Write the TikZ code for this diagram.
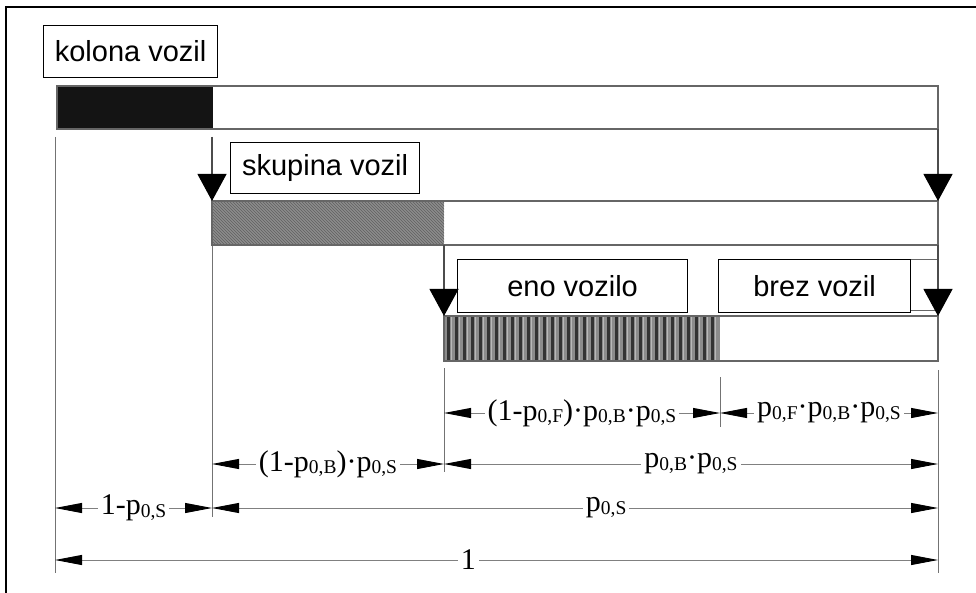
\documentclass[tikz,border=0pt]{standalone}
\usepackage{fontspec}
\setmainfont{Liberation Serif}
\newfontfamily\boxfont{Liberation Sans}
\usetikzlibrary{arrows.meta,patterns}

% subscripts of the probabilities, set small and slightly lowered
\newcommand{\sbs}[1]{\raisebox{-2.5pt}{\fontsize{19.5}{19.5}\selectfont #1}}
\newcommand{\pr}[1]{p\sbs{0,#1}}
\newcommand{\dt}{\textperiodcentered}

\begin{document}
\begin{tikzpicture}[x=1pt,y=-1pt,
  caption/.style={draw=black, line width=1.2pt, fill=white, anchor=north west,
    inner sep=0pt, font=\boxfont\fontsize{29}{29}\selectfont},
  barline/.style={draw=black!60, line width=1.1pt},
  extline/.style={draw=black!55, line width=0.9pt},
  drop/.style={draw=black!70, line width=1.1pt,
    -{Triangle[length=27pt,width=29pt,color=black,fill=black]}},
  dimline/.style={draw=black!50, line width=0.9pt,
    {Triangle[length=27pt,width=10pt,color=black,fill=black]}-{Triangle[length=27pt,width=10pt,color=black,fill=black]}},
  dimtext/.style={fill=white, inner sep=3pt, font=\fontsize{30}{30}\selectfont}
]
\useasboundingbox (0,0) rectangle (976,593);

% outer frame
\draw[line width=2pt] (6,620) -- (6,7) -- (1000,7);

% key points
\coordinate (x0) at (55,137);   \coordinate (x0b) at (55,573);
\coordinate (x1) at (212,137);  \coordinate (x1b) at (212,517);
\coordinate (x2) at (444,368);  \coordinate (x2b) at (444,472);
\coordinate (x3) at (720,377);  \coordinate (x3b) at (720,427);
\coordinate (x4) at (938,370);  \coordinate (x4b) at (938,573);

% extension lines
\draw[extline] (x0) -- (x0b);
\draw[extline] (x1) -- (x1b);
\draw[extline] (x2) -- (x2b);
\draw[extline] (x3) -- (x3b);
\draw[extline] (x4) -- (x4b);

% bar 1: platoon of vehicles
\fill[black!92] (57,86) rectangle (213,129);
\draw[barline] (57,86) rectangle (938,129);

% bar 2: group of vehicles
\fill[black!45] (212,201) rectangle (444,245);
\fill[pattern=north west lines, pattern color=black!62] (212,201) rectangle (444,245);
\draw[barline] (212,201) rectangle (938,245);

% bar 3: single vehicle
\fill[black!45] (444,316) rectangle (720,361);
\foreach \s in {447,455,...,716} {
  \fill[black!80] (\s,317) rectangle (\s+2.6,360);
  \fill[black!28] (\s+4,317) rectangle (\s+5.2,360);
}
\draw[barline] (444,316) rectangle (938,361);

% frame beside the "no vehicle" caption
\draw[black!60, line width=0.9pt] (910,259) rectangle (938,310);

% captions
\node[caption, minimum width=174pt, minimum height=52pt] (kolona) at (43,25) {kolona vozil};
\node[caption, minimum width=189pt, minimum height=51pt] (skupina) at (230,142) {skupina vozil};
\node[caption, minimum width=230pt, minimum height=53pt] (eno) at (457,259) {eno vozilo};
\node[caption, minimum width=192pt, minimum height=53pt] (brez) at (718,259) {brez vozil};

% transitions between the bars
\coordinate (b1r) at (938,129); \coordinate (b2r) at (938,201);
\coordinate (b2rb) at (938,245); \coordinate (b3r) at (938,316);
\coordinate (b2l) at (212,201); \coordinate (b2m) at (444,245);
\coordinate (b3l) at (444,316);
\draw[drop] (x1) -- (b2l);
\draw[drop] (b1r) -- (b2r);
\draw[drop] (b2m) -- (b3l);
\draw[drop] (b2rb) -- (b3r);

% dimension rows
\coordinate (r1a) at (444,413); \coordinate (r1b) at (720,413); \coordinate (r1c) at (938,413);
\coordinate (r2a) at (212,464); \coordinate (r2b) at (444,464); \coordinate (r2c) at (938,464);
\coordinate (r3a) at (55,508);  \coordinate (r3b) at (212,508); \coordinate (r3c) at (938,508);
\coordinate (r4a) at (55,560);  \coordinate (r4c) at (938,560);

\draw[dimline] (r1a) -- node[dimtext] {(1-\pr{F})\dt\pr{B}\dt\pr{S}} (r1b);
\draw[dimline] (r1b) -- node[dimtext] {\pr{F}\dt\pr{B}\dt\pr{S}} (r1c);
\draw[dimline] (r2a) -- node[dimtext] {(1-\pr{B})\dt\pr{S}} (r2b);
\draw[dimline] (r2b) -- node[dimtext] {\pr{B}\dt\pr{S}} (r2c);
\draw[dimline] (r3a) -- node[dimtext] {1-\pr{S}} (r3b);
\draw[dimline] (r3b) -- node[dimtext, pos=0.543] {\pr{S}} (r3c);
\draw[dimline] (r4a) -- node[dimtext, pos=0.468] {1} (r4c);
\end{tikzpicture}
\end{document}
